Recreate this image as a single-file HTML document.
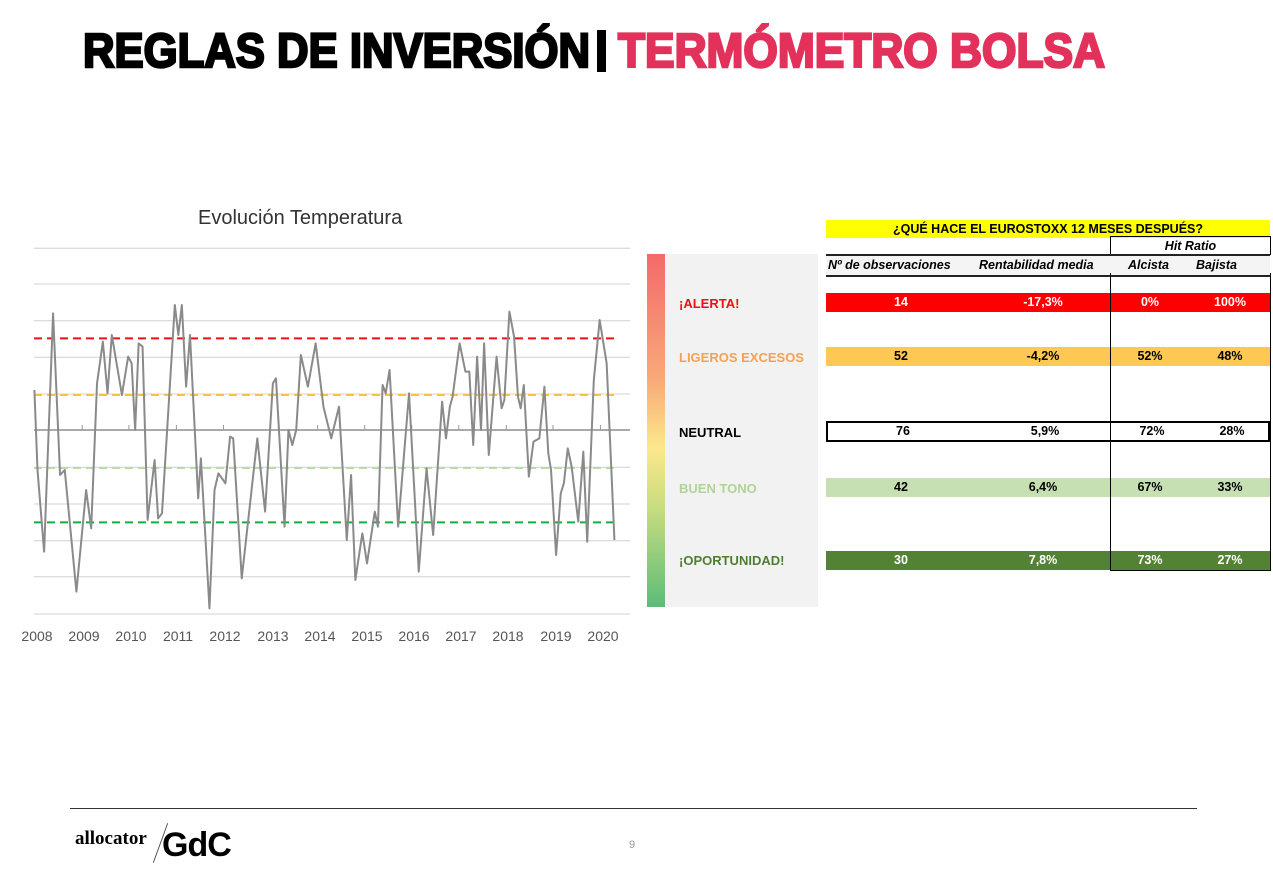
<!DOCTYPE html>
<html><head><meta charset="utf-8"><style>
body{margin:0;width:1273px;height:870px;background:#fff;position:relative;overflow:hidden;font-family:"Liberation Sans",Arial,sans-serif}
.a{position:absolute}
.row{position:absolute;left:826px;width:444px;height:19px;font-weight:bold;font-size:12.5px;line-height:19px}
.row span{position:absolute;text-align:center}
.c1{left:0;width:150px}.c3{left:284px;width:80px}.c4{left:364px;width:80px}
.lab{position:absolute;left:679px;font-weight:bold;font-size:13px}
.yr{position:absolute;top:628px;width:50px;margin-left:-25px;text-align:center;font-size:14px;color:#555}
</style></head><body>
<svg class="a" style="left:0;top:0" width="1273" height="90">
<text x="83" y="67" font-family="Liberation Sans" font-weight="bold" font-size="48" textLength="507" lengthAdjust="spacingAndGlyphs" fill="#000" stroke="#000" stroke-width="2.5">REGLAS DE INVERSIÓN</text>
<rect x="597" y="30" width="9" height="42" fill="#000"/>
<text x="618" y="67" font-family="Liberation Sans" font-weight="bold" font-size="48" textLength="487" lengthAdjust="spacingAndGlyphs" fill="#e2325c" stroke="#e2325c" stroke-width="2.5">TERMÓMETRO BOLSA</text>
</svg>
<div class="a" style="left:198px;top:207px;font-size:20px;color:#333">Evolución Temperatura</div>
<svg class="a" style="left:20px;top:240px" width="610" height="410" viewBox="0 0 1568 1230" preserveAspectRatio="none">
<g stroke="#dcdcdc" stroke-width="1.3" vector-effect="non-scaling-stroke">
<line vector-effect="non-scaling-stroke" x1="36" x2="1568" y1="25" y2="25"/><line vector-effect="non-scaling-stroke" x1="36" x2="1568" y1="132" y2="132"/><line vector-effect="non-scaling-stroke" x1="36" x2="1568" y1="242" y2="242"/><line vector-effect="non-scaling-stroke" x1="36" x2="1568" y1="352" y2="352"/><line vector-effect="non-scaling-stroke" x1="36" x2="1568" y1="462" y2="462"/><line vector-effect="non-scaling-stroke" x1="36" x2="1568" y1="682" y2="682"/><line vector-effect="non-scaling-stroke" x1="36" x2="1568" y1="792" y2="792"/><line vector-effect="non-scaling-stroke" x1="36" x2="1568" y1="902" y2="902"/><line vector-effect="non-scaling-stroke" x1="36" x2="1568" y1="1010" y2="1010"/><line vector-effect="non-scaling-stroke" x1="36" x2="1568" y1="1122" y2="1122"/></g>
<line vector-effect="non-scaling-stroke" x1="36" x2="1568" y1="570" y2="570" stroke="#777" stroke-width="1.3"/>
<g stroke="#999" stroke-width="1"><line vector-effect="non-scaling-stroke" x1="160" x2="160" y1="555" y2="570"/><line vector-effect="non-scaling-stroke" x1="280" x2="280" y1="555" y2="570"/><line vector-effect="non-scaling-stroke" x1="402" x2="402" y1="555" y2="570"/><line vector-effect="non-scaling-stroke" x1="523" x2="523" y1="555" y2="570"/><line vector-effect="non-scaling-stroke" x1="644" x2="644" y1="555" y2="570"/><line vector-effect="non-scaling-stroke" x1="765" x2="765" y1="555" y2="570"/><line vector-effect="non-scaling-stroke" x1="886" x2="886" y1="555" y2="570"/><line vector-effect="non-scaling-stroke" x1="1007" x2="1007" y1="555" y2="570"/><line vector-effect="non-scaling-stroke" x1="1128" x2="1128" y1="555" y2="570"/><line vector-effect="non-scaling-stroke" x1="1250" x2="1250" y1="555" y2="570"/><line vector-effect="non-scaling-stroke" x1="1370" x2="1370" y1="555" y2="570"/><line vector-effect="non-scaling-stroke" x1="1492" x2="1492" y1="555" y2="570"/></g>
<g stroke-width="2" stroke-dasharray="8,5">
<line vector-effect="non-scaling-stroke" x1="36" x2="1530" y1="295" y2="295" stroke="#f01010"/>
<line vector-effect="non-scaling-stroke" x1="36" x2="1530" y1="465" y2="465" stroke="#f8c048"/>
<line vector-effect="non-scaling-stroke" x1="36" x2="1530" y1="684" y2="684" stroke="#b8dca8"/>
<line vector-effect="non-scaling-stroke" x1="36" x2="1530" y1="847" y2="847" stroke="#10b040"/></g>
<polyline vector-effect="non-scaling-stroke" fill="none" stroke="#8a8a8a" stroke-width="2" stroke-linejoin="round" points="37,450 45,690 62,935 85,220 103,705 115,690 145,1055 170,750 183,865 198,430 213,305 225,460 236,285 262,465 278,350 287,370 296,570 305,310 315,320 328,840 346,660 355,835 365,820 398,195 407,285 416,195 427,440 437,285 458,775 465,655 487,1105 500,750 510,700 528,730 540,590 548,595 570,1015 610,595 630,815 650,430 658,415 680,860 690,570 700,615 710,570 722,345 740,440 760,310 780,500 800,595 820,500 840,900 851,705 862,1020 880,880 892,970 912,815 920,860 932,435 940,460 950,390 972,860 1000,460 1025,995 1045,685 1062,885 1085,485 1095,595 1105,500 1112,470 1130,310 1145,395 1155,395 1165,615 1175,350 1185,570 1193,310 1205,645 1225,350 1238,505 1245,480 1258,215 1270,290 1280,470 1287,505 1295,435 1308,710 1320,605 1335,595 1348,440 1358,640 1365,690 1378,945 1390,760 1398,730 1408,625 1418,680 1435,845 1448,635 1458,905 1475,420 1490,240 1508,370 1528,900"/>
</svg>
<div class="yr" style="left:37px">2008</div><div class="yr" style="left:84px">2009</div><div class="yr" style="left:131px">2010</div><div class="yr" style="left:178px">2011</div><div class="yr" style="left:225px">2012</div><div class="yr" style="left:273px">2013</div><div class="yr" style="left:320px">2014</div><div class="yr" style="left:367px">2015</div><div class="yr" style="left:414px">2016</div><div class="yr" style="left:461px">2017</div><div class="yr" style="left:508px">2018</div><div class="yr" style="left:556px">2019</div><div class="yr" style="left:603px">2020</div>
<div class="a" style="left:647px;top:254px;width:18px;height:353px;background:linear-gradient(#f46a6a,#f8a878 35%,#fce88a 55%,#c8dc80 72%,#5cbc78)"></div>
<div class="a" style="left:665px;top:254px;width:153px;height:353px;background:#f2f2f2"></div>
<div class="lab" style="top:296px;color:#f01010">¡ALERTA!</div>
<div class="lab" style="top:350px;color:#f8a050">LIGEROS EXCESOS</div>
<div class="lab" style="top:425px;color:#000">NEUTRAL</div>
<div class="lab" style="top:481px;color:#b0d498">BUEN TONO</div>
<div class="lab" style="top:553px;color:#4e7e30">¡OPORTUNIDAD!</div>
<div class="a" style="left:826px;top:220px;width:444px;height:18px;background:#ffff00;font-weight:bold;font-size:12.5px;text-align:center;line-height:18px">¿QUÉ HACE EL EUROSTOXX 12 MESES DESPUÉS?</div>
<div class="a" style="left:1110px;top:236px;width:159px;height:18px;border:1.5px solid #000;border-bottom:none;font-style:italic;font-weight:bold;font-size:12.5px;text-align:center;line-height:19px">Hit Ratio</div>
<div class="a" style="left:826px;top:254px;width:444px;height:19px;border-top:2px solid #222;border-bottom:2px solid #222;font-style:italic;font-weight:bold;font-size:12.5px;line-height:19px;background:#f4f4f4">
<span class="a" style="left:2px">Nº de observaciones</span><span class="a" style="left:153px">Rentabilidad media</span><span class="a" style="left:302px">Alcista</span><span class="a" style="left:370px">Bajista</span></div>
<div class="a" style="left:1110px;top:273px;width:159px;height:297px;border-left:1.5px solid #000;border-right:1.5px solid #000;border-bottom:1.5px solid #000"></div>
<div class="row" style="top:293px;background:#ff0000;color:#fff"><span class="c1">14</span><span style="left:150px;width:134px">-17,3%</span><span class="c3">0%</span><span class="c4">100%</span></div>
<div class="row" style="top:347px;background:#ffc855;color:#000"><span class="c1">52</span><span style="left:150px;width:134px">-4,2%</span><span class="c3">52%</span><span class="c4">48%</span></div>
<div class="row" style="top:421px;border:2px solid #000;width:440px;height:17px;line-height:17px;color:#000;background:#fff"><span class="c1">76</span><span style="left:150px;width:134px">5,9%</span><span class="c3">72%</span><span class="c4">28%</span></div>
<div class="row" style="top:478px;background:#c6e0b4;color:#000"><span class="c1">42</span><span style="left:150px;width:134px">6,4%</span><span class="c3">67%</span><span class="c4">33%</span></div>
<div class="row" style="top:551px;background:#548235;color:#fff"><span class="c1">30</span><span style="left:150px;width:134px">7,8%</span><span class="c3">73%</span><span class="c4">27%</span></div>
<div class="a" style="left:1110px;top:273px;width:0;height:298px;border-left:1.5px solid #000"></div>
<div class="a" style="left:70px;top:808px;width:1127px;height:1px;background:#333"></div>
<div class="a" style="left:75px;top:828px;font-family:'Liberation Serif',serif;font-weight:bold;font-size:19px">allocator</div>
<div class="a" style="left:160px;top:822px;width:1px;height:42px;background:#555;transform:rotate(20deg)"></div>
<div class="a" style="left:162px;top:826px;font-family:'Liberation Sans',sans-serif;font-weight:bold;font-size:34px;letter-spacing:-1px">GdC</div>
<div class="a" style="left:629px;top:839px;font-size:11px;color:#999">9</div>
</body></html>
